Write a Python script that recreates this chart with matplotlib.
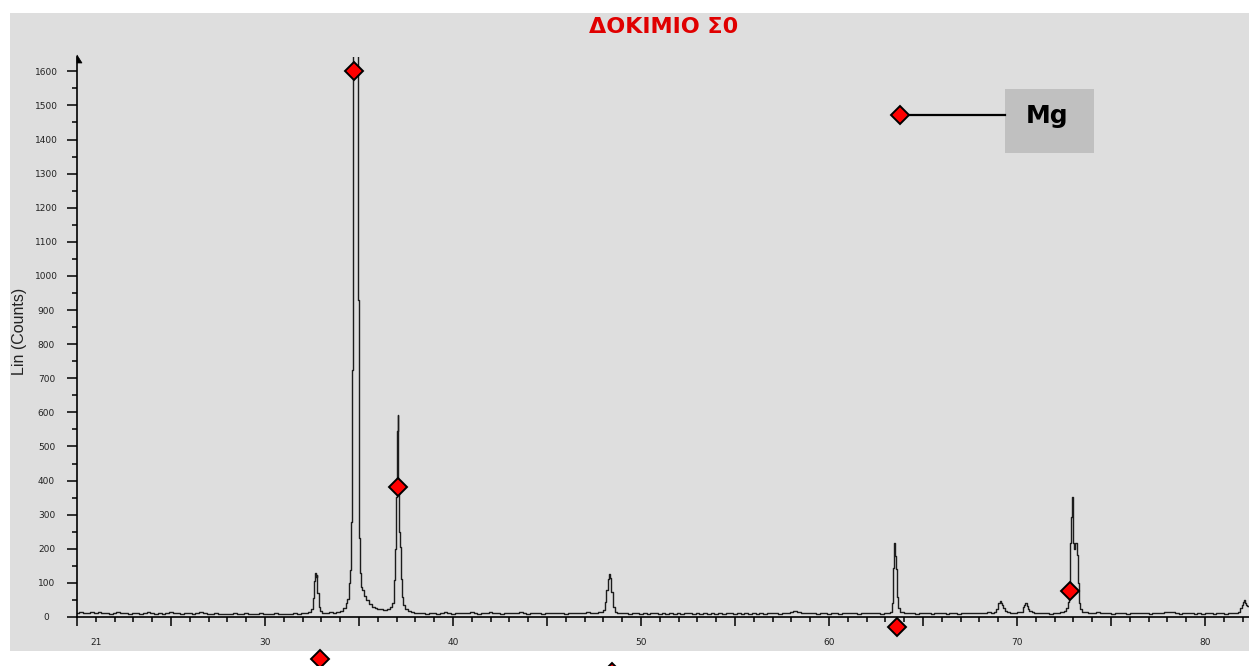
import matplotlib
matplotlib.use("Agg")
import matplotlib.pyplot as plt
from matplotlib.patches import Rectangle, Polygon
from matplotlib.lines import Line2D
from matplotlib.ticker import MultipleLocator, FuncFormatter

# Diffraction scan: 2-theta (deg) and intensity (counts)
two_theta = [
    20.0, 20.2, 20.4, 20.6, 20.8, 21.0, 21.2, 21.4, 21.6, 21.8,
    22.0, 22.2, 22.4, 22.6, 22.8, 23.0, 23.2, 23.4, 23.6, 23.8,
    24.0, 24.2, 24.4, 24.6, 24.8, 25.0, 25.2, 25.4, 25.6, 25.8,
    26.0, 26.2, 26.4, 26.6, 26.8, 27.0, 27.2, 27.4, 27.6, 27.8,
    28.0, 28.2, 28.4, 28.6, 28.8, 29.0, 29.2, 29.4, 29.6, 29.8,
    30.0, 30.2, 30.4, 30.6, 30.8, 31.0, 31.2, 31.4, 31.6, 31.8,
    32.0, 32.2, 32.4, 32.5, 32.58, 32.64, 32.68, 32.72, 32.76, 32.82,
    32.9, 33.0, 33.1, 33.3, 33.5, 33.7, 33.9, 34.1, 34.25, 34.35,
    34.42, 34.5, 34.56, 34.62, 34.66, 34.7, 34.8, 34.9, 34.95, 35.02,
    35.07, 35.12, 35.2, 35.3, 35.45, 35.6, 35.75, 35.9, 36.05, 36.2,
    36.4, 36.55, 36.7, 36.8, 36.88, 36.95, 37.0, 37.04, 37.07, 37.1,
    37.16, 37.22, 37.28, 37.32, 37.4, 37.54, 37.7, 37.87, 38.0, 38.2,
    38.4, 38.6, 38.8, 39.0, 39.2, 39.4, 39.6, 39.8, 40.0, 40.2,
    40.4, 40.6, 40.8, 41.0, 41.2, 41.4, 41.6, 41.8, 42.0, 42.2,
    42.4, 42.6, 42.8, 43.0, 43.2, 43.4, 43.6, 43.8, 44.0, 44.2,
    44.4, 44.6, 44.8, 45.0, 45.2, 45.4, 45.6, 45.8, 46.0, 46.2,
    46.4, 46.6, 46.8, 47.0, 47.2, 47.4, 47.6, 47.8, 47.95, 48.05,
    48.12, 48.2, 48.28, 48.32, 48.38, 48.45, 48.55, 48.65, 48.8, 49.0,
    49.2, 49.4, 49.6, 49.8, 50.0, 50.2, 50.4, 50.6, 50.8, 51.0,
    51.2, 51.4, 51.6, 51.8, 52.0, 52.2, 52.4, 52.6, 52.8, 53.0,
    53.2, 53.4, 53.6, 53.8, 54.0, 54.2, 54.4, 54.6, 54.8, 55.0,
    55.2, 55.4, 55.6, 55.8, 56.0, 56.2, 56.4, 56.6, 56.8, 57.0,
    57.2, 57.4, 57.6, 57.8, 58.0, 58.2, 58.4, 58.6, 58.8, 59.0,
    59.2, 59.4, 59.6, 59.8, 60.0, 60.2, 60.4, 60.6, 60.8, 61.0,
    61.2, 61.4, 61.6, 61.8, 62.0, 62.2, 62.4, 62.6, 62.8, 63.0,
    63.2, 63.3, 63.38, 63.44, 63.48, 63.51, 63.55, 63.6, 63.66, 63.72,
    63.8, 63.9, 64.1, 64.3, 64.5, 64.7, 64.9, 65.1, 65.3, 65.5,
    65.7, 65.9, 66.1, 66.3, 66.5, 66.7, 66.9, 67.1, 67.3, 67.5,
    67.7, 67.9, 68.1, 68.3, 68.5, 68.7, 68.85, 68.95, 69.05, 69.1,
    69.15, 69.22, 69.3, 69.4, 69.55, 69.7, 69.9, 70.1, 70.25, 70.35,
    70.42, 70.48, 70.55, 70.62, 70.7, 70.85, 71.0, 71.2, 71.4, 71.6,
    71.8, 72.0, 72.2, 72.4, 72.55, 72.65, 72.75, 72.82, 72.86, 72.9,
    72.94, 72.98, 73.02, 73.08, 73.14, 73.2, 73.26, 73.3, 73.38, 73.5,
    73.7, 73.9, 74.1, 74.3, 74.5, 74.7, 74.9, 75.1, 75.3, 75.5,
    75.7, 75.9, 76.1, 76.3, 76.5, 76.7, 76.9, 77.1, 77.3, 77.5,
    77.7, 77.9, 78.1, 78.3, 78.5, 78.7, 78.9, 79.1, 79.3, 79.5,
    79.7, 79.9, 80.1, 80.3, 80.5, 80.7, 80.9, 81.1, 81.3, 81.5,
    81.7, 81.8, 81.9, 82.0, 82.05, 82.1, 82.15, 82.22, 82.3, 82.4,
]
counts = [
    12, 14, 11, 13, 15, 12, 14, 11, 13, 10,
    12, 14, 11, 12, 9, 11, 13, 10, 12, 14,
    11, 9, 12, 10, 13, 15, 11, 12, 9, 11,
    13, 10, 12, 14, 11, 9, 10, 12, 9, 8,
    10, 9, 11, 8, 9, 11, 8, 10, 9, 11,
    8, 10, 9, 11, 10, 8, 10, 9, 12, 10,
    11, 13, 14, 22, 55, 105, 130, 118, 122, 70,
    30, 18, 13, 11, 14, 12, 15, 18, 26, 40,
    52, 100, 138, 280, 724, 2500, 2900, 2400, 930, 232,
    130, 89, 78, 62, 50, 38, 30, 27, 23, 22,
    20, 22, 28, 40, 108, 200, 353, 545, 592, 380,
    250, 206, 110, 60, 35, 22, 18, 15, 13, 12,
    11, 10, 12, 11, 10, 12, 14, 11, 10, 12,
    11, 13, 12, 15, 11, 10, 13, 12, 14, 11,
    12, 10, 11, 13, 12, 11, 14, 12, 10, 11,
    12, 11, 10, 12, 11, 13, 11, 12, 10, 11,
    12, 11, 13, 12, 14, 12, 13, 16, 14, 20,
    45, 80, 112, 126, 115, 72, 28, 15, 13, 11,
    12, 10, 11, 12, 10, 11, 10, 12, 11, 10,
    11, 10, 12, 10, 11, 10, 12, 11, 10, 11,
    10, 11, 10, 12, 10, 11, 10, 11, 12, 10,
    11, 10, 11, 10, 12, 10, 11, 10, 11, 12,
    11, 10, 13, 12, 15, 18, 14, 12, 11, 12,
    11, 10, 12, 11, 10, 12, 11, 10, 12, 11,
    12, 11, 10, 12, 11, 13, 12, 11, 10, 12,
    13, 16, 40, 145, 217, 200, 180, 140, 60, 25,
    16, 14, 12, 11, 12, 10, 11, 12, 11, 10,
    12, 11, 13, 10, 11, 12, 10, 12, 11, 13,
    12, 11, 13, 12, 14, 12, 15, 24, 40, 48,
    42, 35, 25, 18, 14, 13, 12, 14, 16, 28,
    36, 40, 32, 24, 18, 14, 12, 11, 12, 11,
    10, 11, 12, 14, 17, 25, 45, 90, 216, 294,
    353, 300, 216, 200, 216, 182, 100, 41, 24, 16,
    15, 13, 12, 14, 12, 11, 12, 10, 11, 12,
    11, 10, 12, 11, 13, 12, 11, 10, 12, 11,
    12, 14, 15, 16, 12, 10, 11, 12, 11, 10,
    11, 10, 12, 11, 10, 12, 11, 10, 11, 12,
    13, 16, 25, 35, 44, 50, 42, 35, 32, 30,
]

# Mg reference markers (2-theta, marker level)
mg_angle = [32.94, 34.73, 37.07, 48.44, 63.62, 72.82]
mg_level = [-122, 1600, 381, -160, -29, 76]

title_text = "ΔΟΚΙΜΙΟ Σ0"
ylabel_text = "Lin (Counts)"
phase_name = "Mg"

W, H = 1249, 666
fig = plt.figure(figsize=(W / 100, H / 100), dpi=100, facecolor="white")


def fx(x):
    return x / W


def fy(y):
    return 1 - y / H


# grey plotting panel
fig.patches.append(Rectangle((fx(10), fy(651)), (W - 10) / W, (651 - 13) / H,
                             transform=fig.transFigure, facecolor="#dedede",
                             edgecolor="none", zorder=-5))

ax = fig.add_axes([fx(77), fy(617), (W - 77) / W, (617 - 57) / H])
ax.set_zorder(1)
ax.set_facecolor("none")
ax.set_xlim(20, 82.34)
ax.set_ylim(0, 1642)

ax.plot(two_theta, counts, color="#1c1c1c", lw=1.0, drawstyle="steps-mid", zorder=2)
ax.plot(mg_angle, mg_level, ls="none", marker="D", ms=9.5, mfc="#ff0000",
        mec="black", mew=1.4, clip_on=False, zorder=5)

for s in ("top", "right"):
    ax.spines[s].set_visible(False)
for s in ("left", "bottom"):
    ax.spines[s].set_linewidth(1.2)
    ax.spines[s].set_color("black")

ax.xaxis.set_major_locator(MultipleLocator(5))
ax.xaxis.set_minor_locator(MultipleLocator(1))
ax.xaxis.set_major_formatter(
    FuncFormatter(lambda v, p: f"{v:.0f}" if (round(v) % 10 == 0 and v > 25) else ""))
ax.xaxis.set_minor_formatter(FuncFormatter(lambda v, p: "21" if round(v) == 21 else ""))
ax.yaxis.set_major_locator(MultipleLocator(100))
ax.yaxis.set_minor_locator(MultipleLocator(50))

ax.tick_params(axis="x", which="major", direction="out", length=6.5, width=1.1,
               pad=8.4, labelsize=6.5, labelcolor="#222222")
ax.tick_params(axis="x", which="minor", direction="out", length=3.6, width=1.1,
               pad=11.3, labelsize=6.5, labelcolor="#222222")
ax.tick_params(axis="y", which="major", direction="out", length=7.2, width=1.1,
               pad=14.8, labelsize=6.5, labelcolor="#222222")
ax.tick_params(axis="y", which="minor", direction="out", length=3.6, width=1.1)
for lab in ax.get_yticklabels():
    lab.set_horizontalalignment("center")

# arrow head on top of the y axis
fig.patches.append(Polygon([(fx(77), fy(55)), (fx(82), fy(63)), (fx(77), fy(63))],
                           closed=True, transform=fig.transFigure,
                           facecolor="black", edgecolor="black", lw=0.5, zorder=3))

fig.text(fx(20), fy(331), ylabel_text, rotation=90, ha="center", va="center",
         fontsize=11.5, family="Liberation Sans", color="#222222")

fig.text(fx(663.5), fy(27), title_text, ha="center", va="center", fontsize=16,
         fontweight="bold", family="DejaVu Sans", color="#e00000")

# phase key
fig.patches.append(Rectangle((fx(1005), fy(153)), 89 / W, 64 / H,
                             transform=fig.transFigure, facecolor="#c0c0c0",
                             edgecolor="none", zorder=2))
fig.add_artist(Line2D([fx(900), fx(1005)], [fy(115), fy(115)], color="black",
                      lw=1.6, zorder=3))
fig.add_artist(Line2D([fx(900)], [fy(115)], ls="none", marker="D", ms=9.5,
                      mfc="#ff0000", mec="black", mew=1.4, zorder=4))
fig.text(fx(1047.5), fy(123.3), phase_name, ha="center", va="baseline",
         fontsize=18, fontweight="bold", family="DejaVu Sans", color="black",
         zorder=4)

fig.savefig("out.png", dpi=100, facecolor="white")
